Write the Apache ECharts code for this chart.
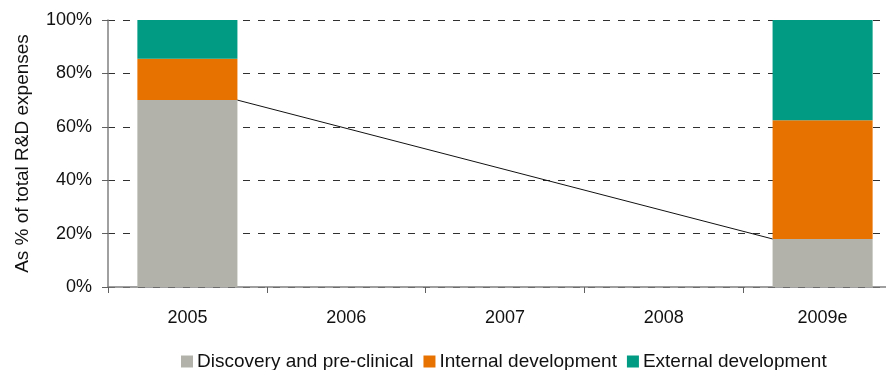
<!DOCTYPE html>
<html>
<head>
<meta charset="utf-8">
<script src="https://cdn.jsdelivr.net/npm/echarts@6/dist/echarts.min.js"></script>
<style>
  html, body { margin: 0; padding: 0; background: #fff; }
  #chart { width: 886px; height: 370px; }
</style>
</head>
<body>
<div id="chart"></div>
<script>
// R&D expense split by stage, in % of total
const years = ['2005', '2006', '2007', '2008', '2009e'];
const discovery = [70, null, null, null, 18];
const internalDev = [15.5, null, null, null, 44.5];
const externalDev = [14.5, null, null, null, 37.5];
const yTicks = [0, 20, 40, 60, 80, 100];

const FONT = '"Liberation Sans", Arial, sans-serif';
const BAR_RATIO = 0.63;

// Connector between the top of the discovery segment of the first and last bars
const connector = [];
discovery.forEach((v, i) => { if (v != null) connector.push([i, v]); });

const chart = echarts.init(document.getElementById('chart'));
chart.setOption({
  animation: false,
  textStyle: { fontFamily: FONT },
  // the category band runs slightly past the right edge of the canvas
  grid: {
    left: 108, width: 794, top: 20, bottom: 83,
    containLabel: false, outerBoundsMode: 'none'
  },
  legend: {
    left: 176, top: 347,
    itemWidth: 12, itemHeight: 12, itemGap: 10,
    textStyle: { fontFamily: FONT, fontSize: 19, color: '#111', padding: [0, 0, 0, -1] },
    data: [
      { name: 'Discovery and pre-clinical', icon: 'rect' },
      { name: 'Internal development', icon: 'rect' },
      { name: 'External development', icon: 'rect' }
    ]
  },
  xAxis: {
    type: 'category',
    data: years,
    boundaryGap: true,
    axisLine: { lineStyle: { color: '#808080', width: 1.5 } },
    axisTick: { show: true, length: 6, lineStyle: { color: '#606060' } },
    axisLabel: { fontSize: 18, color: '#111', margin: 22, fontFamily: FONT },
    splitLine: { show: false }
  },
  yAxis: {
    type: 'value',
    min: 0, max: 100, interval: 20,
    name: 'As % of total R&D expenses',
    nameLocation: 'middle',
    nameGap: 76,
    nameRotate: 90,
    nameTextStyle: { fontSize: 19, color: '#111', fontFamily: FONT },
    axisLine: { show: true, lineStyle: { color: '#808080', width: 1.5 } },
    axisTick: { show: true, length: 6, inside: false, lineStyle: { color: '#606060' } },
    axisLabel: {
      fontSize: 18, color: '#111', margin: 16, fontFamily: FONT,
      formatter: v => yTicks.includes(v) ? v + '%' : ''
    },
    splitLine: { show: true, lineStyle: { color: '#303030', type: [7, 8], width: 1 } }
  },
  series: [
    {
      name: 'Discovery and pre-clinical', type: 'bar', stack: 'rd',
      barWidth: (BAR_RATIO * 100) + '%',
      itemStyle: { color: '#b2b2aa' }, data: discovery
    },
    {
      name: 'Internal development', type: 'bar', stack: 'rd',
      itemStyle: { color: '#e87200' }, data: internalDev
    },
    {
      name: 'External development', type: 'bar', stack: 'rd',
      itemStyle: { color: '#009b82' }, data: externalDev
    },
    {
      type: 'custom',
      silent: true,
      z: 5,
      data: [0],
      renderItem: function (params, api) {
        const a = connector[0], b = connector[connector.length - 1];
        const pa = api.coord([a[0], a[1]]);
        const pb = api.coord([b[0], b[1]]);
        const half = api.size([1, 0])[0] * BAR_RATIO / 2;
        return {
          type: 'line',
          shape: { x1: pa[0] + half, y1: pa[1], x2: pb[0] - half, y2: pb[1] },
          style: { stroke: '#111', lineWidth: 1 }
        };
      }
    }
  ]
});
</script>
</body>
</html>
